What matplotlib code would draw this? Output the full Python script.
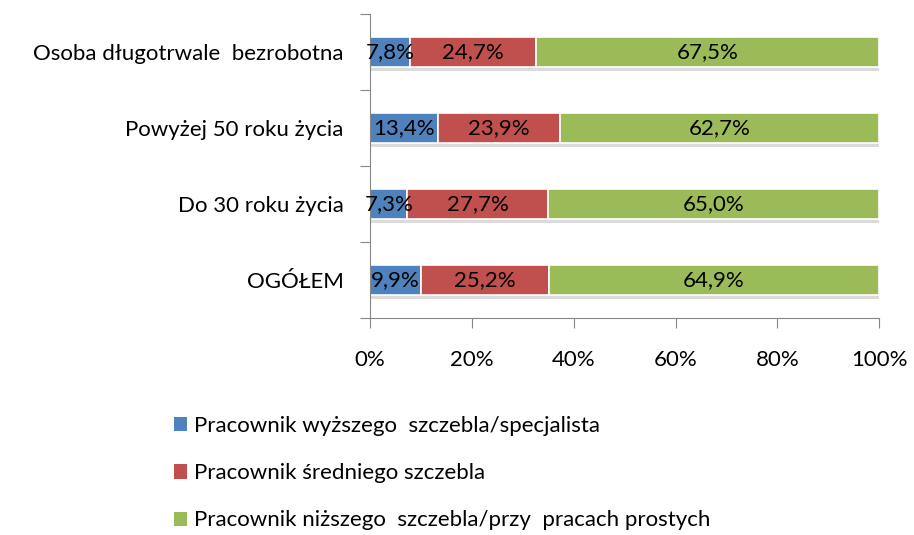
"""Stacked 100% bar chart: job level by group."""

import matplotlib

matplotlib.use("Agg")

import matplotlib.pyplot as plt
import matplotlib.patheffects as pe
from matplotlib.patches import Patch

plt.rcParams["font.family"] = ["Lato", "DejaVu Sans"]

categories = ["OGÓŁEM", "Do 30 roku życia", "Powyżej 50 roku życia", "Osoba długotrwale  bezrobotna"]
wyzszy = [9.9, 7.3, 13.4, 7.8]
sredni = [25.2, 27.7, 23.9, 24.7]
nizszy = [64.9, 65.0, 62.7, 67.5]
series_names = [
    "Pracownik wyższego  szczebla/specjalista",
    "Pracownik średniego szczebla",
    "Pracownik niższego  szczebla/przy  pracach prostych",
]
colors = ["#4F81BD", "#C0504D", "#9BBB59"]
x_ticks = [0, 20, 40, 60, 80, 100]

fs = 16

fig = plt.figure(figsize=(9.14, 5.35), dpi=100)
ax = fig.add_axes([0.405, 0.406, 0.557, 0.568])

shadow = [pe.SimplePatchShadow(offset=(0, -3), shadow_rgbFace="#999999", alpha=0.35), pe.Normal()]

y = range(len(categories))
left = [0.0] * len(categories)
for values, color in zip([wyzszy, sredni, nizszy], colors):
    bars = ax.barh(y, values, left=left, height=0.4, color=color,
                   edgecolor="white", linewidth=1.2)
    for b in bars:
        b.set_path_effects(shadow)
    for i, v in enumerate(values):
        ax.text(left[i] + v / 2, i, f"{v:.1f}%".replace(".", ","),
                ha="center", va="center", fontsize=fs, color="black")
    left = [l + v for l, v in zip(left, values)]

ax.set_xlim(0, 100)
ax.set_ylim(-0.5, len(categories) - 0.5)
ax.set_xticks(x_ticks)
ax.set_xticklabels([f"{t}%" for t in x_ticks], fontsize=fs)

ax.set_yticks([i - 0.5 for i in range(len(categories) + 1)])
ax.set_yticklabels([])
ax.set_yticks(list(y), minor=True)
ax.set_yticklabels(categories, minor=True, fontsize=fs)
ax.tick_params(axis="y", which="minor", length=0, pad=19)
ax.tick_params(axis="y", which="major", length=7, color="#868686")
ax.tick_params(axis="x", length=7, color="#868686", pad=16)

for side in ["top", "right"]:
    ax.spines[side].set_visible(False)
ax.spines["left"].set_color("#868686")
ax.spines["bottom"].set_color("#868686")

handles = [Patch(facecolor=c, edgecolor="none") for c in colors]
fig.legend(handles, series_names, loc="upper left", bbox_to_anchor=(0.19, 0.222),
           frameon=False, fontsize=fs, handlelength=0.6, handleheight=0.6,
           handletextpad=0.3, labelspacing=1.22, borderpad=0, borderaxespad=0)

fig.savefig("out.png", dpi=100)
